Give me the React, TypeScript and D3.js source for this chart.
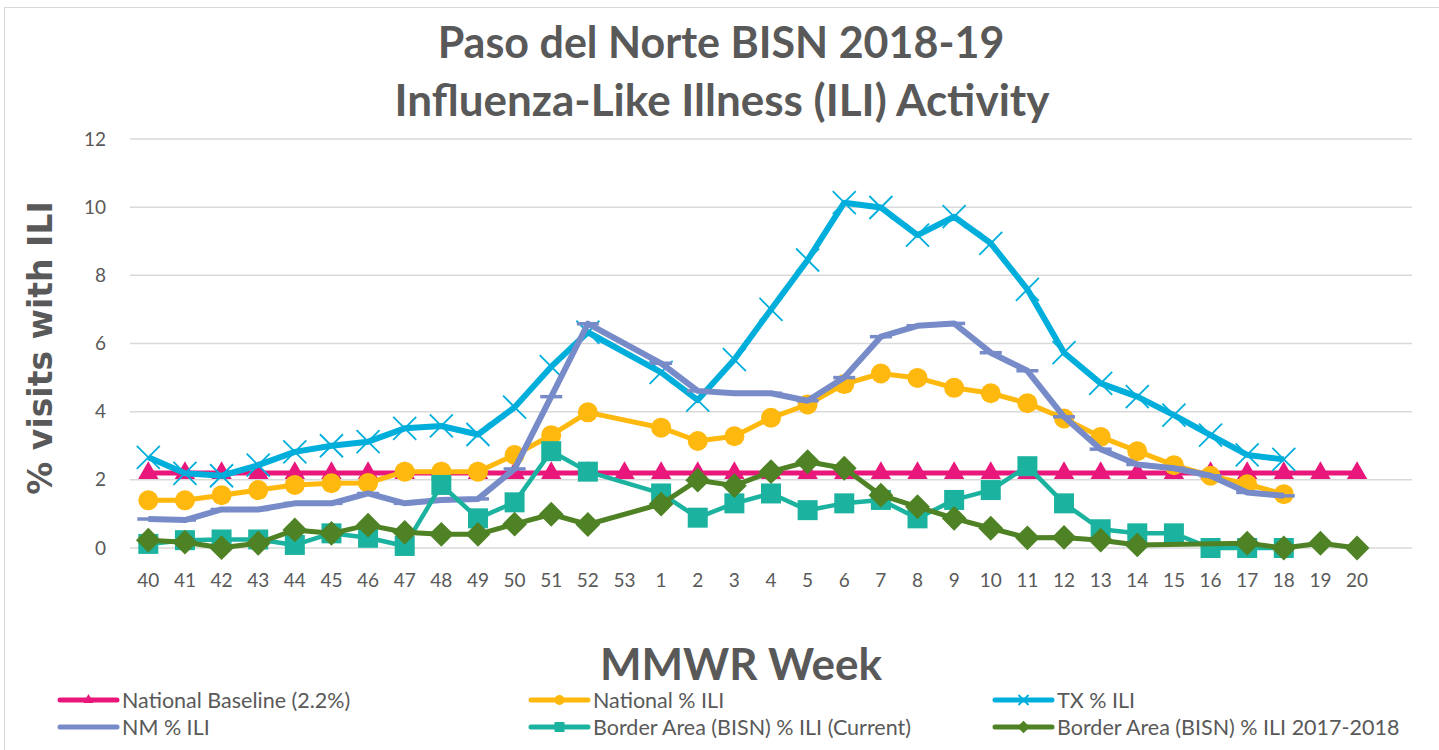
import * as d3 from "d3";

const weeks = [
  "40", "41", "42", "43", "44", "45", "46", "47", "48", "49", "50", "51", "52", "53",
  "1", "2", "3", "4", "5", "6", "7", "8", "9", "10", "11", "12", "13", "14", "15",
  "16", "17", "18", "19", "20", "",
];

const baseline = [
  2.2, 2.2, 2.2, 2.2, 2.2, 2.2, 2.2, 2.2, 2.2, 2.2, 2.2, 2.2, 2.2, 2.2,
  2.2, 2.2, 2.2, 2.2, 2.2, 2.2, 2.2, 2.2, 2.2, 2.2, 2.2, 2.2, 2.2, 2.2, 2.2,
  2.2, 2.2, 2.2, 2.2, 2.2, null,
];

const nationalIli = [
  1.4, 1.4, 1.55, 1.7, 1.85, 1.9, 1.91, 2.24, 2.24, 2.24, 2.73, 3.31, 3.98, null,
  3.53, 3.14, 3.28, 3.82, 4.21, 4.81, 5.12, 4.99, 4.7, 4.54, 4.25, 3.8, 3.26, 2.84, 2.43,
  2.12, 1.87, 1.58, null, null, null,
];

const txIli = [
  2.66, 2.19, 2.12, 2.43, 2.82, 3.0, 3.12, 3.51, 3.58, 3.33, 4.13, 5.32, 6.33, null,
  5.15, 4.34, 5.53, 7.0, 8.45, 10.13, 9.99, 9.18, 9.72, 8.94, 7.59, 5.73, 4.83, 4.44, 3.9,
  3.31, 2.73, 2.6, null, null, null,
];

const nmIli = [
  0.85, 0.82, 1.13, 1.13, 1.31, 1.31, 1.6, 1.31, 1.41, 1.44, 2.32, 4.44, 6.58, null,
  5.42, 4.61, 4.54, 4.54, 4.32, 5.0, 6.2, 6.52, 6.59, 5.73, 5.2, 3.85, 2.9, 2.45, 2.34,
  2.12, 1.63, 1.53, null, null, null,
];

const bisnCurrent = [
  0.12, 0.23, 0.25, 0.25, 0.09, 0.43, 0.3, 0.06, 1.85, 0.87, 1.34, 2.84, 2.24, null,
  1.6, 0.89, 1.31, 1.6, 1.11, 1.31, 1.41, 0.87, 1.41, 1.7, 2.4, 1.31, 0.55, 0.43, 0.43,
  0.0, 0.0, 0.0, null, null, null,
];

const bisnPrev = [
  0.23, 0.17, 0.01, 0.14, 0.53, 0.43, 0.67, 0.46, 0.4, 0.4, 0.7, 0.99, 0.69, null,
  1.29, 1.99, 1.83, 2.24, 2.53, 2.34, 1.55, 1.21, 0.87, 0.58, 0.3, 0.31, 0.23, 0.09, null,
  null, 0.14, 0.0, 0.14, 0.0, null,
];

const yTicks = [0, 2, 4, 6, 8, 10, 12];

type Marker = "triangle" | "circle" | "x" | "dash" | "square" | "diamond";

const series: { name: string; values: (number | null)[]; color: string; width: number; marker: Marker }[] = [
  { name: "National Baseline (2.2%)", values: baseline, color: "#E9177B", width: 5, marker: "triangle" },
  { name: "National % ILI", values: nationalIli, color: "#FFB80D", width: 5, marker: "circle" },
  { name: "TX % ILI", values: txIli, color: "#00AEDB", width: 6, marker: "x" },
  { name: "NM % ILI", values: nmIli, color: "#778BC9", width: 6, marker: "dash" },
  { name: "Border Area (BISN) % ILI (Current)", values: bisnCurrent, color: "#1BB39F", width: 4.5, marker: "square" },
  { name: "Border Area (BISN) % ILI 2017-2018", values: bisnPrev, color: "#4E8224", width: 5, marker: "diamond" },
];

const W = 1439;
const H = 750;
const TEXT = "#595959";
const FONT = "Lato, 'Open Sans', sans-serif";

function markerPath(m: Marker, s: number): string {
  const p = d3.path();
  if (m === "triangle") {
    return d3.symbol(d3.symbolTriangle, s * s * 0.45)() || "";
  }
  if (m === "circle") {
    return d3.symbol(d3.symbolCircle, Math.PI * (s / 2) * (s / 2))() || "";
  }
  if (m === "square") {
    p.rect(-s / 2, -s / 2, s, s);
    return p.toString();
  }
  if (m === "diamond") {
    const h = s * 0.62;
    p.moveTo(0, -h);
    p.lineTo(h, 0);
    p.lineTo(0, h);
    p.lineTo(-h, 0);
    p.closePath();
    return p.toString();
  }
  if (m === "x") {
    const h = s / 2;
    p.moveTo(-h, -h);
    p.lineTo(h, h);
    p.moveTo(-h, h);
    p.lineTo(h, -h);
    return p.toString();
  }
  // dash
  p.moveTo(-s / 2, 0);
  p.lineTo(s / 2, 0);
  return p.toString();
}

function MarkerShape({ m, color, size }: { m: Marker; color: string; size: number }) {
  const d = markerPath(m, size);
  if (m === "x") return <path d={d} fill="none" stroke={color} strokeWidth={1.8} />;
  if (m === "dash") return <path d={d} fill="none" stroke={color} strokeWidth={3.5} />;
  return <path d={d} fill={color} />;
}

export default function App() {
  const x = d3.scaleBand<string>().domain(weeks.map((w, i) => i + ":" + w)).range([130, 1412]).padding(0);
  const cx = (i: number) => (x(i + ":" + weeks[i]) ?? 0) + x.bandwidth() / 2;
  const y = d3.scaleLinear().domain([0, 12]).range([548, 139]);

  const line = d3
    .line<{ i: number; v: number }>()
    .x((d) => cx(d.i))
    .y((d) => y(d.v));

  const legendCols = [60, 531, 995];
  const legendRows = [700, 727];

  return (
    <svg width={W} height={H} style={{ position: "absolute", left: 0, top: 0, background: "#fff" }}>
      <rect x={4.5} y={7.5} width={W + 20} height={H + 20} fill="#fff" stroke="#D9D9D9" strokeWidth={1} />

      <text x={721} y={58} textAnchor="middle" fontFamily={FONT} fontWeight={700} fontSize={43} fill={TEXT}>
        Paso del Norte BISN 2018-19
      </text>
      <text x={722} y={116} textAnchor="middle" fontFamily={FONT} fontWeight={700} fontSize={44} fill={TEXT}>
        Influenza-Like Illness (ILI) Activity
      </text>

      {yTicks.map((t) => (
        <g key={t}>
          <line x1={130} x2={1412} y1={y(t)} y2={y(t)} stroke="#D9D9D9" strokeWidth={1.5} />
          <text x={106} y={y(t)} dy="0.35em" textAnchor="end" fontFamily={FONT} fontSize={19} fill={TEXT}>
            {t}
          </text>
        </g>
      ))}

      {weeks.map((w, i) => (
        <text key={i} x={cx(i)} y={580} dy="0.35em" textAnchor="middle" fontFamily={FONT} fontSize={19} fill={TEXT}>
          {w}
        </text>
      ))}

      <text
        transform="translate(40,348) rotate(-90)"
        textAnchor="middle"
        dy="0.35em"
        fontFamily="'DejaVu Sans', Verdana, sans-serif"
        fontWeight={700}
        fontSize={33}
        fill={TEXT}
      >
        % visits with ILI
      </text>

      <text x={741} y={680} textAnchor="middle" fontFamily={FONT} fontWeight={700} fontSize={44} fill={TEXT}>
        MMWR Week
      </text>

      {series.map((s) => {
        const pts = s.values
          .map((v, i) => ({ i, v }))
          .filter((d): d is { i: number; v: number } => d.v != null);
        const size = s.marker === "x" ? 23 : s.marker === "dash" ? 22 : 20;
        return (
          <g key={s.name}>
            <path d={line(pts) || ""} fill="none" stroke={s.color} strokeWidth={s.width} strokeLinejoin="round" />
            {pts.map((d) => (
              <g key={d.i} transform={`translate(${cx(d.i)},${y(d.v)})`}>
                <MarkerShape m={s.marker} color={s.color} size={size} />
              </g>
            ))}
          </g>
        );
      })}

      {series.map((s, k) => {
        const lx = legendCols[k % 3];
        const ly = legendRows[Math.floor(k / 3)];
        return (
          <g key={s.name} transform={`translate(${lx},${ly})`}>
            <line x1={0} x2={57} y1={0} y2={0} stroke={s.color} strokeWidth={5} strokeLinecap="round" />
            <g transform="translate(28.5,0)">
              <MarkerShape m={s.marker} color={s.color} size={10} />
            </g>
            <text x={62} y={0} dy="0.35em" fontFamily={FONT} fontSize={21.5} fill={TEXT}>
              {s.name}
            </text>
          </g>
        );
      })}
    </svg>
  );
}
